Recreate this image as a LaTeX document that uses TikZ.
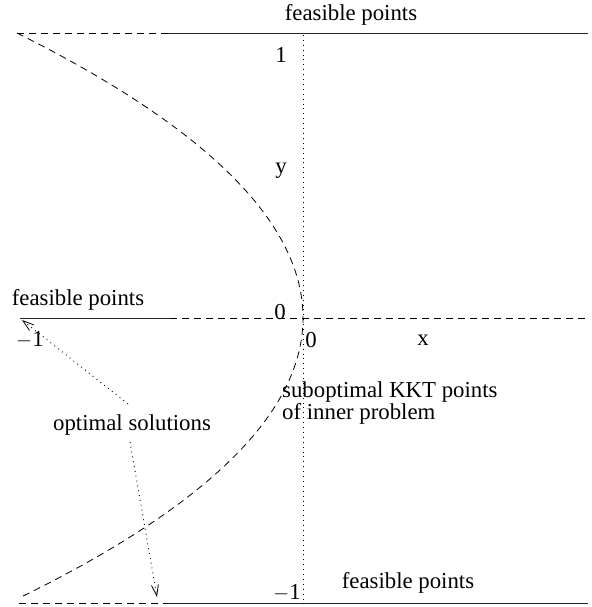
\documentclass[tikz,border=0pt]{standalone}
\usepackage{fontspec}
\setmainfont{Liberation Serif}
\usetikzlibrary{arrows.meta}
\begin{document}
\begin{tikzpicture}[x=1pt,y=-1pt,
  lbl/.style={inner sep=0pt,font=\fontsize{22.8}{25}\selectfont},
  solidline/.style={line width=0.8pt,black!85},
  dashline/.style={line width=0.8pt,dash pattern=on 7pt off 5pt},
  dotline/.style={line width=0.9pt,dash pattern=on 0.9pt off 4pt},
  pointer/.style={dotline,-{Straight Barb[length=11pt,width=7pt,line width=0.8pt]}}]
\useasboundingbox (0,0) rectangle (591,607);
% constraint lines y = 1, 0, -1
\coordinate (tl) at (17,33);  \coordinate (tm) at (168,33);  \coordinate (tr) at (588,33);
\coordinate (ml) at (20,318); \coordinate (mm) at (170,318); \coordinate (mr) at (588,318);
\coordinate (bl) at (19,603); \coordinate (bm) at (168,603); \coordinate (br) at (588,603);
\draw[dashline] (tl) -- (tm);
\draw[solidline] (tm) -- (tr);
\draw[solidline] (ml) -- (mm);
\draw[dashline] (mm) -- (mr);
\draw[dashline] (bl) -- (bm);
\draw[solidline] (bm) -- (br);
% y axis
\coordinate (vt) at (303,35); \coordinate (vb) at (303,607);
\draw[dotline] (vt) -- (vb);
% parabola x = -y^2
\coordinate (pb) at (19,598);
\draw[dashline] (tl) .. controls (397.7,223) and (398.3,413) .. (pb);
% labels
\node[lbl] (ftop) at (351,15) {feasible points};
\node[lbl] (fleft) at (78,300) {feasible points};
\node[lbl] (fbot) at (408,583) {feasible points};
\node[lbl] (one) at (281,55) {1};
\node[lbl] (ylab) at (281,171) {y};
\node[lbl] (zl) at (280,312) {0};
\node[lbl] (zr) at (311,340) {0};
\node[lbl] (xlab) at (423,340) {x};
\node[lbl] (mone) at (30,340) {$-$1};
\node[lbl] (mone2) at (287,593) {$-$1};
\node[lbl,anchor=west,align=left] (kkt) at (282,403) {suboptimal KKT points\\[-3pt]of inner problem};
\node[lbl] (opt) at (132,425) {optimal solutions};
% pointers to the optimal solutions
\coordinate (o1) at (128,404); \coordinate (t1) at (22,320);
\coordinate (o2) at (130,442); \coordinate (t2) at (157,597);
\draw[pointer] (o1) -- (t1);
\draw[pointer] (o2) -- (t2);
\end{tikzpicture}
\end{document}
